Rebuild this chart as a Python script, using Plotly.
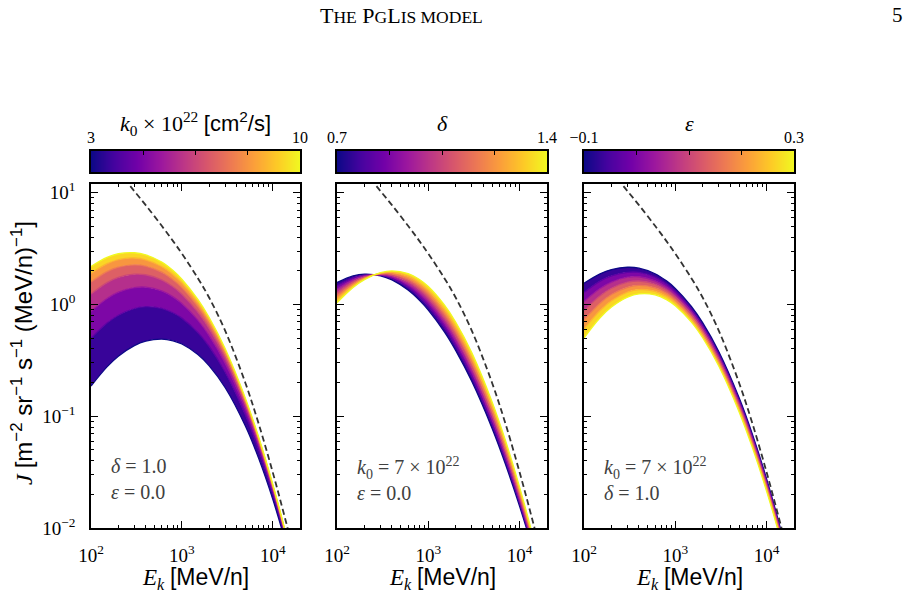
import plotly.graph_objects as go
from plotly.colors import sample_colorscale

# ---------------- data (log10 of J) ----------------
E = [100, 150, 200, 300, 400, 600, 800, 1000, 1500, 2000, 3000, 5000, 7000, 10000, 14000, 20000]

k0_vals = [3.0, 4.17, 5.33, 6.5, 7.67, 8.83, 10.0]
logJ_k0_3_00 = [-0.73, -0.558, -0.463, -0.368, -0.328, -0.310, -0.325, -0.354, -0.448, -0.549, -0.745, -1.088, -1.377, -1.742, -2.146, -2.64]
logJ_k0_4_17 = [-0.302, -0.166, -0.096, -0.036, -0.019, -0.034, -0.074, -0.122, -0.251, -0.376, -0.606, -0.988, -1.301, -1.688, -2.11, -2.62]
logJ_k0_5_33 = [-0.061, 0.054, 0.11, 0.151, 0.155, 0.121, 0.068, 0.009, -0.14, -0.279, -0.527, -0.932, -1.258, -1.658, -2.09, -2.608]
logJ_k0_6_50 = [0.093, 0.195, 0.242, 0.271, 0.266, 0.22, 0.158, 0.092, -0.069, -0.217, -0.477, -0.896, -1.23, -1.638, -2.077, -2.601]
logJ_k0_7_67 = [0.201, 0.294, 0.335, 0.355, 0.344, 0.289, 0.221, 0.151, -0.019, -0.173, -0.442, -0.87, -1.211, -1.625, -2.068, -2.596]
logJ_k0_8_83 = [0.279, 0.365, 0.402, 0.416, 0.40, 0.34, 0.267, 0.193, 0.017, -0.142, -0.417, -0.852, -1.197, -1.615, -2.061, -2.592]
logJ_k0_10_0 = [0.34, 0.421, 0.454, 0.463, 0.444, 0.379, 0.303, 0.226, 0.045, -0.117, -0.397, -0.838, -1.186, -1.607, -2.056, -2.589]

delta_vals = [0.7, 0.817, 0.933, 1.05, 1.167, 1.283, 1.4]
logJ_d_0_700 = [0.196, 0.255, 0.271, 0.257, 0.22, 0.129, 0.037, -0.05, -0.245, -0.413, -0.69, -1.109, -1.429, -1.806, -2.198, -2.654]
logJ_d_0_817 = [0.166, 0.238, 0.263, 0.262, 0.233, 0.154, 0.068, -0.015, -0.205, -0.371, -0.647, -1.069, -1.394, -1.777, -2.177, -2.644]
logJ_d_0_933 = [0.136, 0.221, 0.255, 0.266, 0.247, 0.178, 0.099, 0.02, -0.165, -0.328, -0.604, -1.03, -1.358, -1.749, -2.157, -2.634]
logJ_d_1_050 = [0.105, 0.203, 0.247, 0.27, 0.26, 0.203, 0.131, 0.056, -0.124, -0.286, -0.562, -0.99, -1.323, -1.72, -2.136, -2.623]
logJ_d_1_167 = [0.075, 0.186, 0.239, 0.275, 0.273, 0.228, 0.162, 0.091, -0.084, -0.244, -0.519, -0.951, -1.288, -1.691, -2.115, -2.613]
logJ_d_1_283 = [0.045, 0.169, 0.231, 0.28, 0.287, 0.253, 0.193, 0.126, -0.044, -0.201, -0.476, -0.911, -1.252, -1.662, -2.094, -2.603]
logJ_d_1_400 = [0.015, 0.152, 0.223, 0.284, 0.30, 0.277, 0.224, 0.161, -0.004, -0.159, -0.433, -0.872, -1.217, -1.634, -2.074, -2.593]

eps_vals = [-0.1, -0.033, 0.033, 0.1, 0.167, 0.233, 0.3]
logJ_e_m0_100 = [0.19, 0.274, 0.312, 0.333, 0.325, 0.275, 0.211, 0.144, -0.017, -0.165, -0.423, -0.835, -1.163, -1.561, -1.987, -2.495]
logJ_e_m0_033 = [0.108, 0.209, 0.256, 0.288, 0.287, 0.244, 0.183, 0.118, -0.041, -0.188, -0.445, -0.856, -1.183, -1.579, -2.003, -2.506]
logJ_e_p0_033 = [0.027, 0.143, 0.20, 0.244, 0.248, 0.212, 0.155, 0.092, -0.064, -0.21, -0.466, -0.877, -1.203, -1.598, -2.018, -2.517]
logJ_e_p0_100 = [-0.055, 0.078, 0.145, 0.199, 0.21, 0.181, 0.128, 0.067, -0.088, -0.233, -0.488, -0.898, -1.223, -1.616, -2.034, -2.529]
logJ_e_p0_167 = [-0.137, 0.012, 0.089, 0.154, 0.171, 0.149, 0.10, 0.041, -0.111, -0.255, -0.51, -0.919, -1.243, -1.634, -2.05, -2.54]
logJ_e_p0_233 = [-0.219, -0.054, 0.033, 0.11, 0.133, 0.118, 0.072, 0.015, -0.135, -0.278, -0.532, -0.94, -1.263, -1.653, -2.066, -2.551]
logJ_e_p0_300 = [-0.30, -0.119, -0.023, 0.065, 0.094, 0.086, 0.044, -0.011, -0.158, -0.30, -0.553, -0.961, -1.283, -1.671, -2.081, -2.562]

LIS_E = [200, 250, 300, 400, 600, 800, 1000, 1500, 2000, 3000, 5000, 7000, 10000, 14000, 20000]
LIS_logJ = [1.19, 1.093, 1.014, 0.889, 0.704, 0.567, 0.455, 0.235, 0.06, -0.236, -0.702, -1.067, -1.501, -1.946, -2.442]

x_tick_vals = [100, 1000, 10000]
x_tick_text = ["10<sup>2</sup>", "10<sup>3</sup>", "10<sup>4</sup>"]
y_tick_vals = [0.01, 0.1, 1, 10]
y_tick_text = ["10<sup>\u22122</sup>", "10<sup>\u22121</sup>", "10<sup>0</sup>", "10<sup>1</sup>"]

cbar_ranges = [(3, 10), (0.7, 1.4), (-0.1, 0.3)]
cbar_text = [("3", "10"), ("0.7", "1.4"), ("\u22120.1", "0.3")]

# ---------------- figure ----------------
W, H = 918, 594
SERIF = "Liberation Serif"
SANS = "Liberation Sans"


def fx(p):
    return p / W


def fy(p):
    return 1 - p / H


panels = [
    dict(curves=[logJ_k0_3_00, logJ_k0_4_17, logJ_k0_5_33, logJ_k0_6_50, logJ_k0_7_67, logJ_k0_8_83, logJ_k0_10_0],
         vals=k0_vals, x0=91, x1=300),
    dict(curves=[logJ_d_0_700, logJ_d_0_817, logJ_d_0_933, logJ_d_1_050, logJ_d_1_167, logJ_d_1_283, logJ_d_1_400],
         vals=delta_vals, x0=337, x1=547),
    dict(curves=[logJ_e_m0_100, logJ_e_m0_033, logJ_e_p0_033, logJ_e_p0_100, logJ_e_p0_167, logJ_e_p0_233, logJ_e_p0_300],
         vals=eps_vals, x0=584, x1=794),
]

fig = go.Figure()
minor_x = [200, 300, 400, 500, 600, 700, 800, 900, 2000, 3000, 4000, 5000, 6000, 7000, 8000, 9000]
minor_y = [0.02, 0.03, 0.04, 0.05, 0.06, 0.07, 0.08, 0.09, 0.2, 0.3, 0.4, 0.5, 0.6, 0.7, 0.8, 0.9,
           2, 3, 4, 5, 6, 7, 8, 9]

layout = {}
for i, p in enumerate(panels):
    n = i + 1
    xa = "x" if n == 1 else f"x{n}"
    ya = "y" if n == 1 else f"y{n}"
    vmin, vmax = cbar_ranges[i]
    fr = [(v - vmin) / (vmax - vmin) for v in p["vals"]]
    fr = [min(max(f, 0), 1) for f in fr]
    cols = sample_colorscale("Plasma", fr)
    curves = p["curves"]
    # colour bands between neighbouring curves
    for j in range(len(curves) - 1):
        mid = sample_colorscale("Plasma", [(fr[j] + fr[j + 1]) / 2])[0]
        fig.add_trace(go.Scatter(x=E, y=[10 ** v for v in curves[j]], mode="lines",
                                 line=dict(width=0, shape="spline", color=mid),
                                 xaxis=xa, yaxis=ya, showlegend=False, hoverinfo="skip"))
        fig.add_trace(go.Scatter(x=E, y=[10 ** v for v in curves[j + 1]], mode="lines",
                                 line=dict(width=0, shape="spline", color=mid),
                                 fill="tonexty", fillcolor=mid,
                                 xaxis=xa, yaxis=ya, showlegend=False, hoverinfo="skip"))
    # curve lines
    for j, c in enumerate(curves):
        fig.add_trace(go.Scatter(x=E, y=[10 ** v for v in c], mode="lines",
                                 line=dict(width=1.3, shape="spline", color=cols[j]),
                                 xaxis=xa, yaxis=ya, showlegend=False, hoverinfo="skip"))
    # LIS
    fig.add_trace(go.Scatter(x=LIS_E, y=[10 ** v for v in LIS_logJ], mode="lines",
                             line=dict(width=1.8, shape="spline", color="#333333", dash="6px,3.5px"),
                             xaxis=xa, yaxis=ya, showlegend=False, hoverinfo="skip"))

    axkey_x = "xaxis" if n == 1 else f"xaxis{n}"
    axkey_y = "yaxis" if n == 1 else f"yaxis{n}"
    layout[axkey_x] = dict(
        type="log", range=[2, 4.30], domain=[fx(p["x0"]), fx(p["x1"])], anchor=ya, automargin=False,
        showgrid=False, zeroline=False, showline=True, linecolor="black", linewidth=1.8,
        mirror="ticks", ticks="inside", ticklen=7, tickwidth=1.3, tickcolor="black",
        tickmode="array", tickvals=x_tick_vals, ticktext=x_tick_text,
        tickfont=dict(family=SERIF, size=19, color="black"), ticklabelstandoff=9,
        minor=dict(tickmode="array", tickvals=minor_x, ticks="inside", ticklen=3.5,
                   tickwidth=1, tickcolor="black"),
    )
    layout[axkey_y] = dict(
        type="log", range=[-2, 1.078], domain=[fy(528), fy(184)], anchor=xa, automargin=False,
        showgrid=False, zeroline=False, showline=True, linecolor="black", linewidth=1.8,
        mirror="ticks", ticks="inside", ticklen=7, tickwidth=1.3, tickcolor="black",
        tickmode="array", tickvals=y_tick_vals, ticktext=y_tick_text,
        showticklabels=(n == 1),
        tickfont=dict(family=SERIF, size=19, color="black"), ticklabelstandoff=10,
        minor=dict(tickmode="array", tickvals=minor_y, ticks="inside", ticklen=3.5,
                   tickwidth=1, tickcolor="black"),
    )

    # colour bar as a heatmap in its own axes
    cx = f"x{n + 3}"
    cy = f"y{n + 3}"
    fig.add_trace(go.Heatmap(z=[[vmin, vmax], [vmin, vmax]], x=[vmin, vmax], y=[0, 1],
                             colorscale="Plasma", zmin=vmin, zmax=vmax, zsmooth="best",
                             showscale=False, xaxis=cx, yaxis=cy, hoverinfo="skip"))
    q = (vmax - vmin) / 4
    layout[f"xaxis{n + 3}"] = dict(
        range=[vmin, vmax], domain=[fx(p["x0"]), fx(p["x1"])], anchor=cy, side="top", automargin=False,
        showgrid=False, zeroline=False, showline=True, mirror=True, linecolor="black", linewidth=1.6,
        ticks="", tickmode="array", tickvals=[vmin, vmax], ticktext=list(cbar_text[i]),
        tickfont=dict(family=SERIF, size=16, color="black"), ticklabelstandoff=0,
        minor=dict(tickmode="array", tickvals=[vmin + q, vmin + 2 * q, vmin + 3 * q],
                   ticks="inside", ticklen=4, tickwidth=1.2, tickcolor="black"),
    )
    layout[f"yaxis{n + 3}"] = dict(
        range=[0, 1], domain=[fy(172), fy(151)], anchor=cx, automargin=False,
        showgrid=False, zeroline=False, showline=True, mirror=True, linecolor="black", linewidth=1.6,
        ticks="", showticklabels=False,
    )

ann = []
cb_titles = [
    "<i>k</i><sub>0</sub> \u00d7 10<sup>22</sup> <span style=\"font-family:Liberation Sans\">[cm<sup>2</sup>/s]</span>",
    "<i>\u03b4</i>",
    "<i>\u03b5</i>",
]
for i, p in enumerate(panels):
    cxp = fx((p["x0"] + p["x1"]) / 2)
    ann.append(dict(text=cb_titles[i], x=cxp, y=fy(124), xref="paper", yref="paper",
                    showarrow=False, xanchor="center", yanchor="middle",
                    font=dict(family=SERIF, size=22, color="black")))
    ann.append(dict(text="<i>E</i><sub><i>k</i></sub> <span style=\"font-family:Liberation Sans\">[MeV/n]</span>",
                    x=cxp, y=fy(578), xref="paper", yref="paper", showarrow=False,
                    xanchor="center", yanchor="middle",
                    font=dict(family=SERIF, size=23, color="black")))

panel_notes = [
    "<i>\u03b4</i> = 1.0<br><i>\u03b5</i> = 0.0",
    "<i>k</i><sub>0</sub> = 7 \u00d7 10<sup>22</sup><br><i>\u03b5</i> = 0.0",
    "<i>k</i><sub>0</sub> = 7 \u00d7 10<sup>22</sup><br><i>\u03b4</i> = 1.0",
]
for i, p in enumerate(panels):
    ann.append(dict(text=panel_notes[i], x=fx(p["x0"] + 18), y=fy(479), xref="paper", yref="paper",
                    showarrow=False, xanchor="left", yanchor="middle", align="left",
                    font=dict(family=SERIF, size=20, color="#404040")))

ann.append(dict(
    text="<i>J</i> <span style=\"font-family:Liberation Sans\">[m<sup>\u22122</sup> sr<sup>\u22121</sup> "
         "s<sup>\u22121</sup> (MeV/n)<sup>\u22121</sup>]</span>",
    x=fx(22), y=fy(353), xref="paper", yref="paper", showarrow=False, textangle=-90,
    xanchor="center", yanchor="middle", font=dict(family=SERIF, size=24, color="black")))

ann.append(dict(
    text="T<span style=\"font-size:17.5px\">HE</span> P<span style=\"font-size:17.5px\">G</span>"
         "L<span style=\"font-size:17.5px\">IS MODEL</span>",
    x=fx(401), y=fy(15), xref="paper", yref="paper", showarrow=False,
    xanchor="center", yanchor="middle", font=dict(family=SERIF, size=22, color="black")))
ann.append(dict(text="5", x=fx(897), y=fy(15), xref="paper", yref="paper", showarrow=False,
                xanchor="center", yanchor="middle", font=dict(family=SERIF, size=21, color="black")))

fig.update_layout(
    width=W, height=H, margin=dict(l=0, r=0, t=0, b=0, autoexpand=False),
    paper_bgcolor="white", plot_bgcolor="white",
    showlegend=False, annotations=ann, **layout,
)

fig.write_html("out.html")
